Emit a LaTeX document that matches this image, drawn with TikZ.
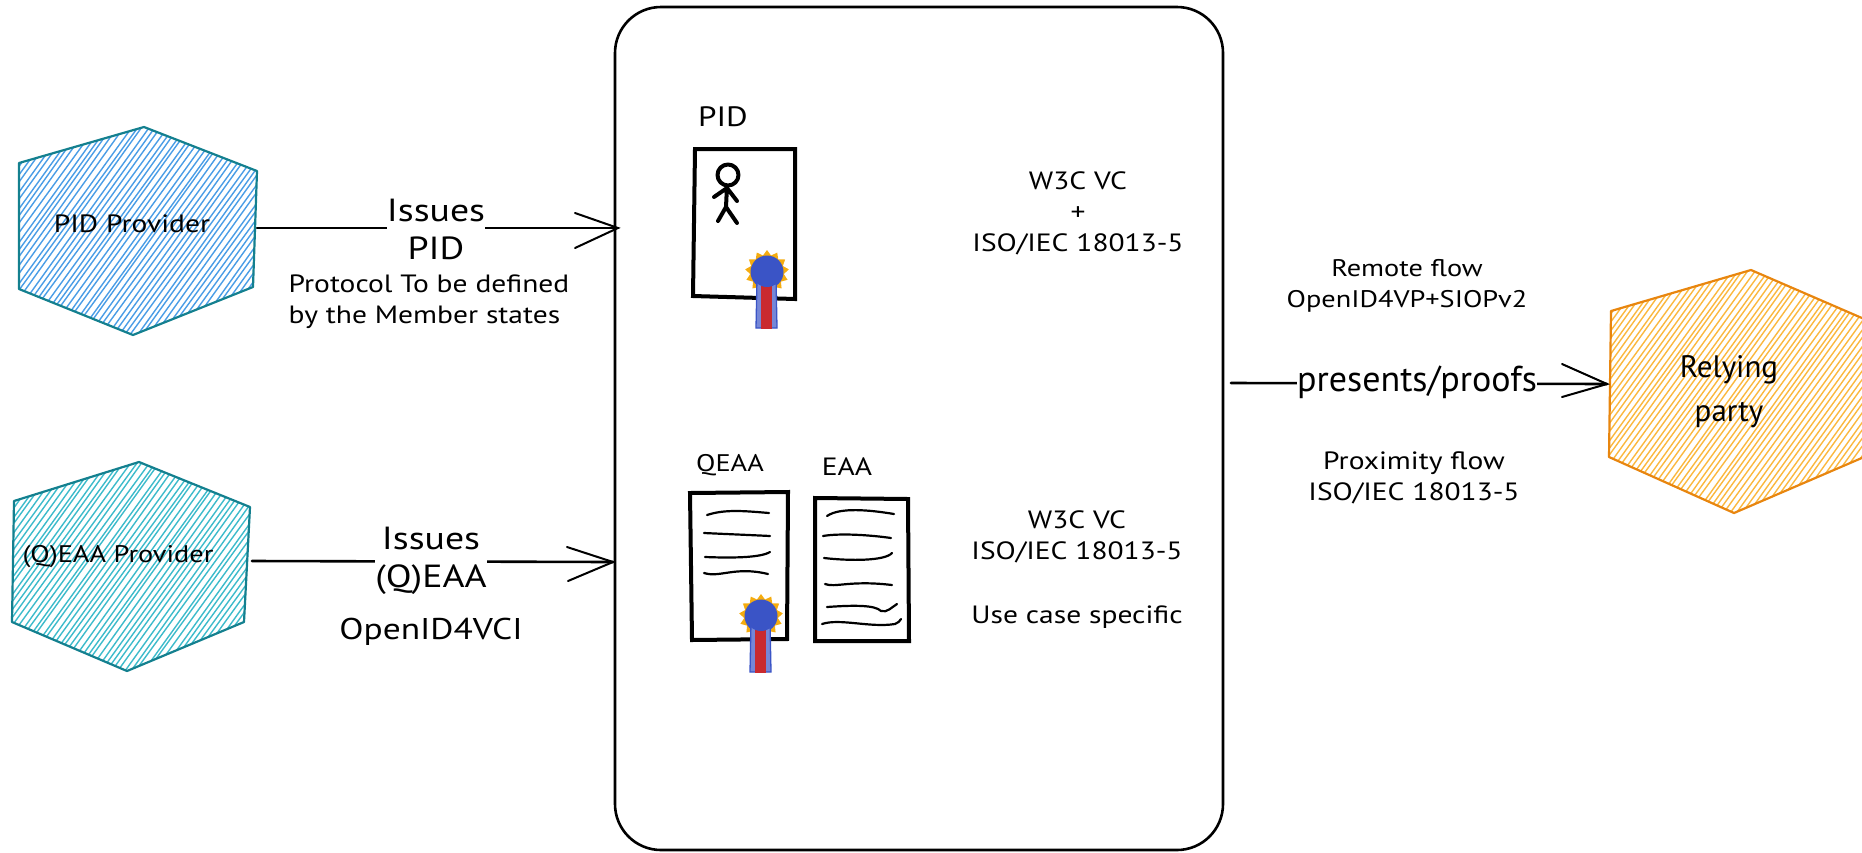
\documentclass[tikz,border=0pt]{standalone}
\usepackage{fontspec}
\setmainfont[FakeStretch=1.18]{PT Sans}
\newfontfamily\plainfont{PT Sans}
\usetikzlibrary{shapes.geometric}
\definecolor{pidfill}{HTML}{4A9DE6}
\definecolor{eaafill}{HTML}{3DBBCB}
\definecolor{rpfill}{HTML}{FBB83F}
\definecolor{tealedge}{HTML}{14808F}
\definecolor{rpedge}{HTML}{E8860F}
\definecolor{sealblue}{HTML}{3A54C6}
\definecolor{sealred}{HTML}{C92A2F}
\definecolor{sealgold}{HTML}{F5AC0F}
\newcommand\hatchlines[5]{%
  \foreach \i in {#1,#2,...,#3}{%
    \pgfmathsetmacro\ja{\i+3*rnd}%
    \pgfmathsetmacro\jb{\i+0.72*(#5-#4)+3*rnd}%
    \draw[hatch] (\ja,#5) -- (\jb,#4);
  }%
}
\tikzset{
  hatch/.style={line width=1.4pt},
  hexedge/.style={line width=2.2pt,line join=round},
  small/.style={font=\fontsize{25}{31}\selectfont,align=center,inner sep=0pt},
  smallleft/.style={font=\fontsize{25}{31}\selectfont,align=left,inner sep=0pt},
  big/.style={font=\fontsize{32}{38}\selectfont,align=center,inner sep=0pt,fill=white},
  rp/.style={font=\plainfont\fontsize{31}{44}\selectfont,align=center,inner sep=0pt},
  code/.style={font=\fontsize{30}{34}\selectfont,align=center,inner sep=0pt},
  conn/.style={line width=2.6pt,line cap=round},
  barb/.style={line width=2pt,line cap=round},
  card/.style={line width=4pt,line join=miter},
  ink/.style={line width=2.2pt,line cap=round},
  fig/.style={line width=4pt,line cap=round,line join=round},
  seal/.pic={
    \node[star,star points=13,star point ratio=1.3,minimum size=44pt,inner sep=0pt,fill=sealgold] at (0,0) {};
    \fill[sealblue] (0,0) circle (16.5);
    \draw[sealblue,line width=1.3pt,fill=sealblue!70!white] (-10,6) -- (-11,56) -- (10,56) -- (9,6) -- cycle;
    \fill[sealred] (-6,7) rectangle (5,57);
    \fill[sealblue] (0,0) circle (15);
  }
}
\begin{document}
\begin{tikzpicture}[x=1pt,y=-1pt]
\path[use as bounding box] (0,0) rectangle (1862,852);
\pgfmathsetseed{7}

% PID provider hexagon
\begin{scope}
  \clip (19,163) -- (144,127) -- (257,171) -- (253,287) -- (133,335) -- (19,289) -- cycle;
  \begin{scope}[color=pidfill]\hatchlines{-180}{-174}{260}{120}{340}\end{scope}
\end{scope}
\draw[hexedge,tealedge] (19,163) -- (144,127) -- (257,171) -- (253,287) -- (133,335) -- (19,289) -- cycle;
\node[small] (pidprov) at (132,224) {PID Provider};

% (Q)EAA provider hexagon
\begin{scope}
  \clip (14,501) -- (139,462) -- (250,507) -- (244,622) -- (127,671) -- (12,622) -- cycle;
  \begin{scope}[color=eaafill]\hatchlines{-180}{-174}{260}{455}{675}\end{scope}
\end{scope}
\draw[hexedge,tealedge] (14,501) -- (139,462) -- (250,507) -- (244,622) -- (127,671) -- (12,622) -- cycle;
\node[small,font=\fontsize{24}{31}\selectfont] (eaaprov) at (118,557) {(Q)EAA Provider};

% Relying party hexagon
\begin{scope}
  \clip (0,0) rectangle (1862,852);
  \begin{scope}
    \clip (1611,311) -- (1751,270) -- (1885,328) -- (1885,448) -- (1734,513) -- (1609,457) -- cycle;
    \begin{scope}[color=rpfill]\hatchlines{1400}{1406}{1890}{265}{520}\end{scope}
  \end{scope}
  \draw[hexedge,rpedge] (1611,311) -- (1751,270) -- (1885,328) -- (1885,448) -- (1734,513) -- (1609,457) -- cycle;
\end{scope}
\node[rp] (relying) at (1729,392) {Relying\\party};

% Wallet container
\draw[line width=2.6pt,rounded corners=46pt] (615,7) rectangle (1223,850);
\coordinate (wallet) at (615,228);

% PID card
\node[small,font=\fontsize{28}{30}\selectfont] (pidlbl) at (723,117) {PID};
\draw[card] (695,149) -- (795,149) -- (795,299) -- (693,296) -- cycle;
\draw[fig] (728,175) circle (10.5);
\draw[fig] (727,186) -- (726,207) (714,197) -- (727,188) -- (737,201) (718,221) -- (726,207) -- (737,223);
\pic at (767,272) {seal};

% QEAA card
\node[small,font=\fontsize{24}{30}\selectfont] (qeaalbl) at (730,465) {QEAA};
\draw[card] (690,493) -- (788,492) -- (787,639) -- (692,640) -- cycle;
\draw[ink] (707,515) .. controls (725,509) and (745,511) .. (769,513);
\draw[ink] (704,533) .. controls (725,534) and (750,535) .. (770,536);
\draw[ink] (705,557) .. controls (730,558) and (760,558) .. (770,552);
\draw[ink] (704,573) .. controls (720,578) and (735,566) .. (768,574);
\pic at (761,616) {seal};

% EAA card
\node[small] (eaalbl) at (847,467) {EAA};
\draw[card] (815,498) -- (908,499) -- (909,641) -- (815,641) -- cycle;
\draw[ink] (827,516) .. controls (840,507) and (870,510) .. (894,514);
\draw[ink] (823,536) .. controls (840,533) and (870,535) .. (891,538);
\draw[ink] (824,558) .. controls (850,561) and (885,561) .. (892,553);
\draw[ink] (825,584) .. controls (835,588) and (850,580) .. (892,585);
\draw[ink] (827,607) .. controls (855,605) and (875,605) .. (881,611) .. controls (887,613) and (892,607) .. (897,604);
\draw[ink] (822,624) .. controls (840,618) and (870,628) .. (895,624) .. controls (898,623) and (900,621) .. (901,619);

% Standards
\node[small] (std1) at (1078,213.5) {W3C VC\\+\\ISO/IEC 18013-5};
\node[small] (std2a) at (1077,537) {W3C VC\\ISO/IEC 18013-5};
\node[small] (std2b) at (1077,617) {Use case specific};

% Arrows: PID
\coordinate (pidout) at (257,228);
\coordinate (pidtip) at (618,228);
\coordinate (pidb1) at (575,213);
\coordinate (pidb2) at (575,248);
\draw[conn] (pidout) -- (pidtip);
\draw[barb] (pidb1) -- (pidtip) -- (pidb2);
\node[big] (issuespid) at (436,229) {Issues\\PID};
\node[smallleft] (protocol) at (429,302) {Protocol To be defined\\by the Member states};

% Arrows: QEAA
\coordinate (eaaout) at (252,561);
\coordinate (eaatip) at (613,562);
\coordinate (eaab1) at (567,547);
\coordinate (eaab2) at (568,581);
\draw[conn] (eaaout) -- (eaatip);
\draw[barb] (eaab1) -- (eaatip) -- (eaab2);
\node[big] (issueseaa) at (431,561) {Issues\\(Q)EAA};
\node[code] (vci) at (431,632) {OpenID4VCI};

% Arrow: presents
\coordinate (wout) at (1231,383);
\coordinate (rptip) at (1607,384);
\coordinate (rpb1) at (1562,364);
\coordinate (rpb2) at (1562,397);
\draw[conn] (wout) -- (rptip);
\draw[barb] (rpb1) -- (rptip) -- (rpb2);
\node[big,font=\plainfont\fontsize{36}{39}\selectfont] (presents) at (1417,382) {presents/proofs};
\node[small,font=\fontsize{24}{31}\selectfont] (remote) at (1407,286) {Remote flow\\OpenID4VP+SIOPv2};
\node[small] (prox) at (1414,478) {Proximity flow\\ISO/IEC 18013-5};
\end{tikzpicture}
\end{document}
